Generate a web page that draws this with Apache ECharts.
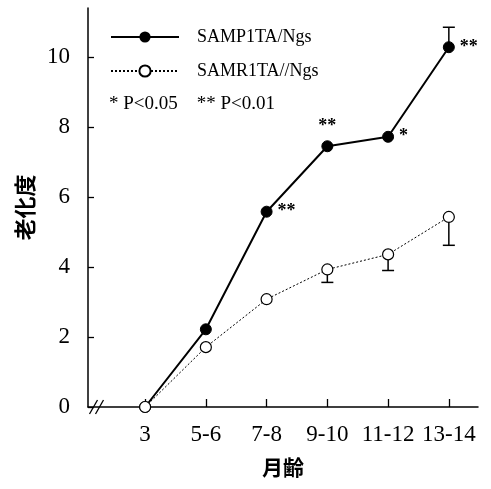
<!DOCTYPE html>
<html><head><meta charset="utf-8">
<script src="https://cdn.jsdelivr.net/npm/echarts@6/dist/echarts.min.js"></script>
<style>html,body{margin:0;padding:0;background:#fff}#c{width:491px;height:489px}</style>
</head><body><div id="c"></div>
<script>
const categories = ['3', '5-6', '7-8', '9-10', '11-12', '13-14'];
const samp1 = [0, 2.22, 5.58, 7.45, 7.72, 10.28];
const samr1 = [0, 1.71, 3.08, 3.93, 4.36, 5.43];
const samp1ErrHigh = [null, null, null, null, null, 10.85];
const samr1ErrLow = [null, null, null, 3.56, 3.9, 4.62];
const samp1Sig = ['', '', '**', '**', '*', '**'];
const yTicks = [0, 2, 4, 6, 8, 10];
const seriesNames = ['SAMP1TA/Ngs', 'SAMR1TA//Ngs'];
const sigNote = '* P<0.05    ** P<0.01';
const breakAt = -0.8;

const sigPos = ['right', 'right', 'right', 'top', 'right', 'right'];
const xIdx = categories.map((c, i) => i);
const serif = '"Liberation Serif", "DejaVu Serif", serif';
const cjk = '"Noto Sans CJK JP", "Noto Sans CJK SC", sans-serif';

function errSeries(vals, src) {
  return {
    type: 'custom', z: 1, silent: true,
    data: vals.map((v, i) => v == null ? null : [i, src[i], v]).filter(d => d),
    renderItem: (params, api) => {
      const p0 = api.coord([api.value(0), api.value(1)]);
      const p1 = api.coord([api.value(0), api.value(2)]);
      const hw = 6;
      return { type: 'group', children: [
        { type: 'line', shape: { x1: p0[0], y1: p0[1], x2: p1[0], y2: p1[1] }, style: { stroke: '#000', lineWidth: 1.5 } },
        { type: 'line', shape: { x1: p1[0] - hw, y1: p1[1], x2: p1[0] + hw, y2: p1[1] }, style: { stroke: '#000', lineWidth: 1.5 } }
      ]};
    }
  };
}

const chart = echarts.init(document.getElementById('c'));
chart.setOption({
  animation: false,
  backgroundColor: '#fff',
  grid: { left: 88, right: 13, top: 8, bottom: 82, containLabel: false },
  title: {
    text: sigNote, left: 104, top: 90,
    textStyle: { fontFamily: serif, fontSize: 19, fontWeight: 'normal', color: '#000' }
  },
  legend: {
    orient: 'vertical', left: 105, top: 23, itemWidth: 68, itemHeight: 14, itemGap: 16,
    data: seriesNames,
    textStyle: { fontFamily: serif, fontSize: 18, color: '#000', padding: [0, 0, 0, 13] }
  },
  xAxis: {
    type: 'value', min: -0.94, max: 5.48,
    axisLine: { show: true, onZero: false, lineStyle: { color: '#000', width: 1.5 } },
    axisTick: { show: true, inside: true, length: 8, customValues: xIdx, lineStyle: { color: '#000', width: 1.3 } },
    axisLabel: { customValues: xIdx, formatter: v => categories[Math.round(v)], margin: 16,
      fontFamily: serif, fontSize: 23, color: '#000' },
    splitLine: { show: false },
    name: '月齢', nameLocation: 'middle', nameGap: 50,
    nameTextStyle: { fontFamily: cjk, fontSize: 21, fontWeight: 'bold', color: '#000' }
  },
  yAxis: {
    type: 'value', min: 0, max: 11.4,
    axisLine: { show: true, onZero: false, lineStyle: { color: '#000', width: 1.5 } },
    axisTick: { show: true, inside: true, length: 6, customValues: yTicks, lineStyle: { color: '#000', width: 1.3 } },
    axisLabel: { customValues: yTicks, margin: 18, fontFamily: serif, fontSize: 23, color: '#000' },
    splitLine: { show: false },
    name: '老化度', nameLocation: 'middle', nameGap: 52, nameRotate: 90,
    nameTextStyle: { fontFamily: cjk, fontSize: 22, fontWeight: 'bold', color: '#000' }
  },
  series: [
    {
      name: seriesNames[0], type: 'line', z: 3,
      data: samp1.map((v, i) => ({
        value: [i, v],
        label: { show: !!samp1Sig[i], position: sigPos[i], formatter: samp1Sig[i] }
      })),
      symbol: 'circle', symbolSize: 11,
      itemStyle: { color: '#000', borderColor: '#000' },
      lineStyle: { color: '#000', width: 2, type: 'solid' },
      label: { fontFamily: serif, fontSize: 18, fontWeight: 'bold', color: '#000', distance: 5 }
    },
    {
      name: seriesNames[1], type: 'line', z: 3,
      data: samr1.map((v, i) => [i, v]),
      symbol: 'circle', symbolSize: 11,
      itemStyle: { color: '#fff', borderColor: '#000', borderWidth: 1.2 },
      lineStyle: { color: '#000', width: 1, type: [2, 2] }
    },
    errSeries(samp1ErrHigh, samp1),
    errSeries(samr1ErrLow, samr1),
    {
      type: 'custom', z: 4, silent: true,
      data: [[breakAt, 0]],
      renderItem: (params, api) => {
        const p = api.coord([api.value(0), api.value(1)]);
        const mk = dx => ({ type: 'line', shape: { x1: p[0] + dx - 4, y1: p[1] + 7, x2: p[0] + dx + 4, y2: p[1] - 7 }, style: { stroke: '#000', lineWidth: 1.3 } });
        return { type: 'group', children: [mk(-3), mk(3)] };
      }
    }
  ]
});
</script>
</body></html>
